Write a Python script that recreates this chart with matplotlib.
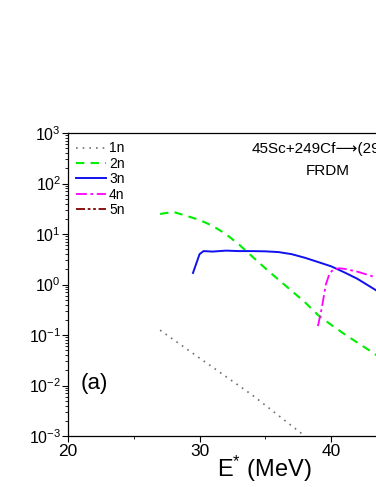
import matplotlib
matplotlib.use("Agg")
from matplotlib import pyplot as plt
from matplotlib.ticker import LogLocator, MultipleLocator, NullFormatter

plt.rcParams['font.family'] = ['Liberation Sans', 'DejaVu Sans']
plt.rcParams['mathtext.fontset'] = 'custom'
plt.rcParams['mathtext.rm'] = 'Liberation Sans'
plt.rcParams['mathtext.it'] = 'Liberation Sans'
plt.rcParams['mathtext.bf'] = 'Liberation Sans:bold'

# cross sections (pb) vs excitation energy E* (MeV)
e_1n = [27.0, 30.0, 34.0, 38.0, 40.0]
s_1n = [0.125, 0.035, 0.0065, 0.001, 0.0004]

e_2n = [27, 28, 29, 30, 31, 32, 33, 34, 35, 36, 37, 38, 39, 40, 41, 42, 43, 44, 46, 48]
s_2n = [25, 27.5, 23, 19, 14.5, 10, 6.2, 3.6, 2.1, 1.25, 0.75, 0.45, 0.25, 0.16,
        0.105, 0.071, 0.048, 0.032, 0.015, 0.007]

e_3n = [29.5, 30.0, 30.3, 31, 32, 33, 34, 35, 36, 37, 38, 39, 40, 41, 42, 43, 44, 46]
s_3n = [1.7, 4.0, 4.6, 4.5, 4.7, 4.6, 4.6, 4.55, 4.4, 4.0, 3.4, 2.8, 2.3, 1.75,
        1.3, 0.9, 0.62, 0.3]

e_4n = [39.0, 39.3, 39.6, 39.9, 40.2, 40.6, 41, 42, 43, 44, 46, 48]
s_4n = [0.15, 0.35, 1.0, 1.7, 2.0, 2.1, 2.05, 1.8, 1.5, 1.2, 0.75, 0.4]

e_5n = [48, 49, 50, 52, 54, 56]
s_5n = [0.05, 0.2, 0.4, 0.35, 0.2, 0.1]

fig = plt.figure(figsize=(3.76, 4.87), dpi=100)
ax = fig.add_axes([0.181, 0.1047, 1.399, 0.622])

ax.plot(e_1n, s_1n, color='#707070', linestyle=(0, (1, 3)), lw=1.2, label='1n')
ax.plot(e_2n, s_2n, color='#00ee00', linestyle=(0, (4, 3)), lw=1.5, label='2n')
ax.plot(e_3n, s_3n, color='#1010ee', linestyle='-', lw=1.4, label='3n')
ax.plot(e_4n, s_4n, color='#ff00ff', linestyle=(0, (6, 2, 1.5, 2)), lw=1.3, label='4n')
ax.plot(e_5n, s_5n, color='#800000', linestyle=(0, (5, 1.5, 1.5, 1.5, 1.5, 1.5)), lw=1.3, label='5n')

ax.set_yscale('log')
ax.set_xlim(20, 60)
ax.set_ylim(1e-3, 1e3)
ax.xaxis.set_major_locator(MultipleLocator(10))
ax.xaxis.set_minor_locator(MultipleLocator(5))
ax.yaxis.set_major_locator(LogLocator(base=10, numticks=10))
ax.yaxis.set_minor_locator(LogLocator(base=10, subs=[2, 3, 4, 5, 6, 7, 8, 9], numticks=20))
ax.yaxis.set_minor_formatter(NullFormatter())
ax.tick_params(which='major', direction='out', length=4, width=0.8)
ax.tick_params(which='minor', direction='out', length=2, width=0.6)
ax.tick_params(axis='y', labelsize=11.5, pad=1)
ax.tick_params(axis='x', labelsize=12.5, pad=2)
for sp in ax.spines.values():
    sp.set_linewidth(0.9)

ax.set_xlabel('E$^{*}$ (MeV)', fontsize=17)
ax.xaxis.set_label_coords(0.373, -0.06)
ax.set_ylabel(r'$\sigma^{xn}$ (pb)', fontsize=17)
ax.yaxis.label.set_transform(matplotlib.transforms.blended_transform_factory(
    fig.transFigure, ax.transAxes))
ax.yaxis.label.set_position((21 / 376, 0.505))

leg = ax.legend(loc='upper left', fontsize=10, frameon=False, handlelength=2.1,
                handletextpad=0.25, labelspacing=0.1, borderaxespad=0.2,
                bbox_to_anchor=(0.0, 1.0))

fig.text(252 / 376, 1 - 149 / 487, '45Sc+249Cf\u27f6(294119)', fontsize=11,
         ha='left', va='center')
fig.text(328 / 376, 1 - 171 / 487, 'FRDM', fontsize=11, ha='center', va='center')
ax.text(0.023, 0.175, '(a)', transform=ax.transAxes, fontsize=16, ha='left', va='center')

fig.savefig('out.png', dpi=100)
